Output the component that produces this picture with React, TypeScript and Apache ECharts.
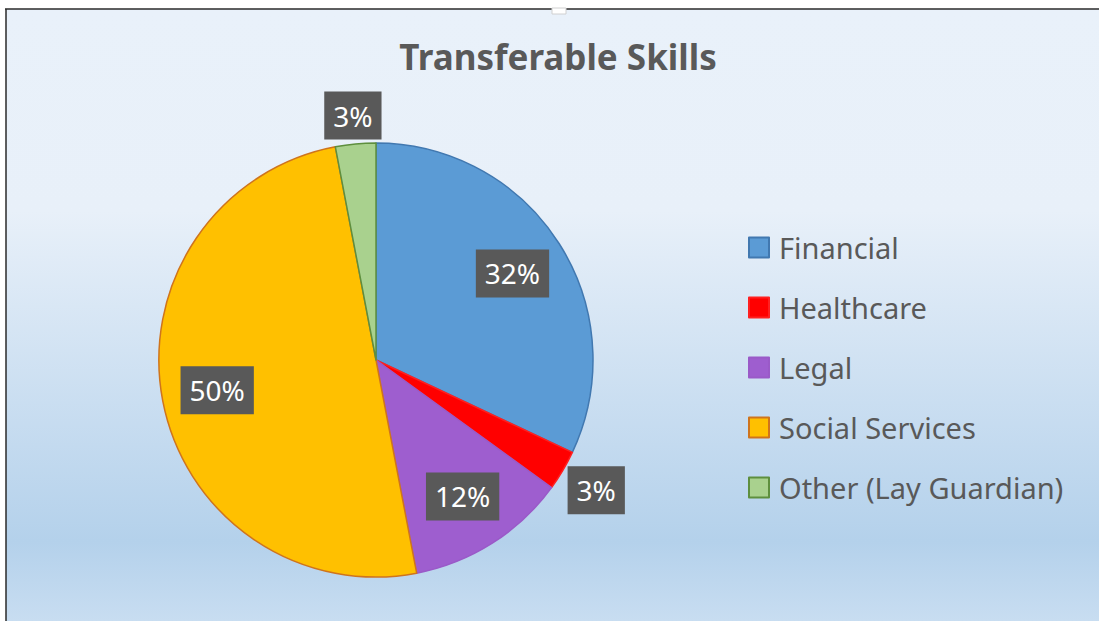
import React, { useEffect, useRef } from "react";
import * as echarts from "echarts";

const chartTitle = "Transferable Skills";
const categories = ["Financial", "Healthcare", "Legal", "Social Services", "Other (Lay Guardian)"];
const values = [32, 3, 12, 50, 3];
const fillColors = ["#5b9bd5", "#ff0000", "#9e5ecf", "#ffc000", "#a9d18e"];
const borderColors = ["#4178b0", "#ff2020", "#9a5ac8", "#cf741c", "#5e8f3e"];

const FONT = "'Noto Sans', 'DejaVu Sans', sans-serif";
const CX = 376;
const CY = 360;
const R = 217;

export default function App() {
  const ref = useRef<HTMLDivElement>(null);

  useEffect(() => {
    if (!ref.current) return;
    const chart = echarts.init(ref.current, null, { renderer: "svg" });
    const total = values.reduce((a, b) => a + b, 0);

    const option: any = {
      animation: false,
      backgroundColor: "#ffffff",
      graphic: [
        {
          type: "rect",
          z: -10,
          shape: { x: 6, y: 9, width: 1093, height: 612 },
          style: {
            fill: new echarts.graphic.LinearGradient(0, 0, 0, 1, [
              { offset: 0, color: "#e9f1fa" },
              { offset: 0.33, color: "#e8f0f9" },
              { offset: 0.87, color: "#b4d1eb" },
              { offset: 1, color: "#c8ddf1" },
            ]),
          },
        },
        {
          type: "line",
          z: 100,
          shape: { x1: 5, y1: 9, x2: 1099, y2: 9 },
          style: { stroke: "#2a2a2a", lineWidth: 1.5 },
        },
        {
          type: "line",
          z: 100,
          shape: { x1: 6, y1: 9, x2: 6, y2: 621 },
          style: { stroke: "#2a2a2a", lineWidth: 1.5 },
        },
        {
          type: "rect",
          z: 101,
          shape: { x: 552, y: 8, width: 14, height: 6 },
          style: { fill: "#ffffff", stroke: "#d0d0d0", lineWidth: 1 },
        },
      ],
      title: {
        text: chartTitle,
        left: 558,
        top: 39,
        padding: 0,
        textAlign: "center",
        textStyle: {
          fontFamily: FONT,
          fontWeight: "bold",
          fontSize: 35,
          color: "#595959",
        },
      },
      legend: {
        orient: "vertical",
        left: 748,
        top: 233,
        padding: 0,
        itemWidth: 20,
        itemHeight: 20,
        itemGap: 31,
        icon: "rect",
        data: categories,
        textStyle: {
          fontFamily: FONT,
          fontSize: 29,
          lineHeight: 28,
          color: "#595959",
          padding: [0, 0, 0, 5],
        },
      },
      series: [
        {
          type: "pie",
          center: [CX, CY],
          radius: R,
          startAngle: 90,
          clockwise: true,
          avoidLabelOverlap: false,
          data: categories.map((name, i) => ({
            name,
            value: values[i],
            itemStyle: {
              color: fillColors[i],
              borderColor: borderColors[i],
              borderWidth: 1.5,
            },
          })),
          label: {
            show: true,
            position: "inside",
            formatter: (p: any) => `${Math.round(p.percent)}%`,
            color: "#ffffff",
            fontFamily: FONT,
            fontSize: 28,
            lineHeight: 28,
            backgroundColor: "#595959",
            padding: [10, 9, 10, 9],
          },
          labelLine: { show: false },
          emphasis: { disabled: true },
          labelLayout: (params: any) => {
            const i = params.dataIndex;
            let cum = 0;
            for (let k = 0; k < i; k++) cum += values[k];
            const mid = ((cum + values[i] / 2) / total) * Math.PI * 2;
            const sx = Math.sin(mid);
            const sy = -Math.cos(mid);
            const w = params.labelRect.width;
            const h = params.labelRect.height;
            let r: number;
            if (values[i] / total >= 0.05) {
              r = R * 0.745;
            } else {
              r = R + 2 + (Math.abs(sx) * w) / 2 + (Math.abs(sy) * h) / 2;
            }
            return {
              x: CX + sx * r,
              y: CY + sy * r,
              align: "center",
              verticalAlign: "middle",
            };
          },
        },
      ],
    };

    chart.setOption(option);
    return () => chart.dispose();
  }, []);

  return (
    <div
      ref={ref}
      style={{ position: "fixed", left: 0, top: 0, width: 1099, height: 621 }}
    />
  );
}
